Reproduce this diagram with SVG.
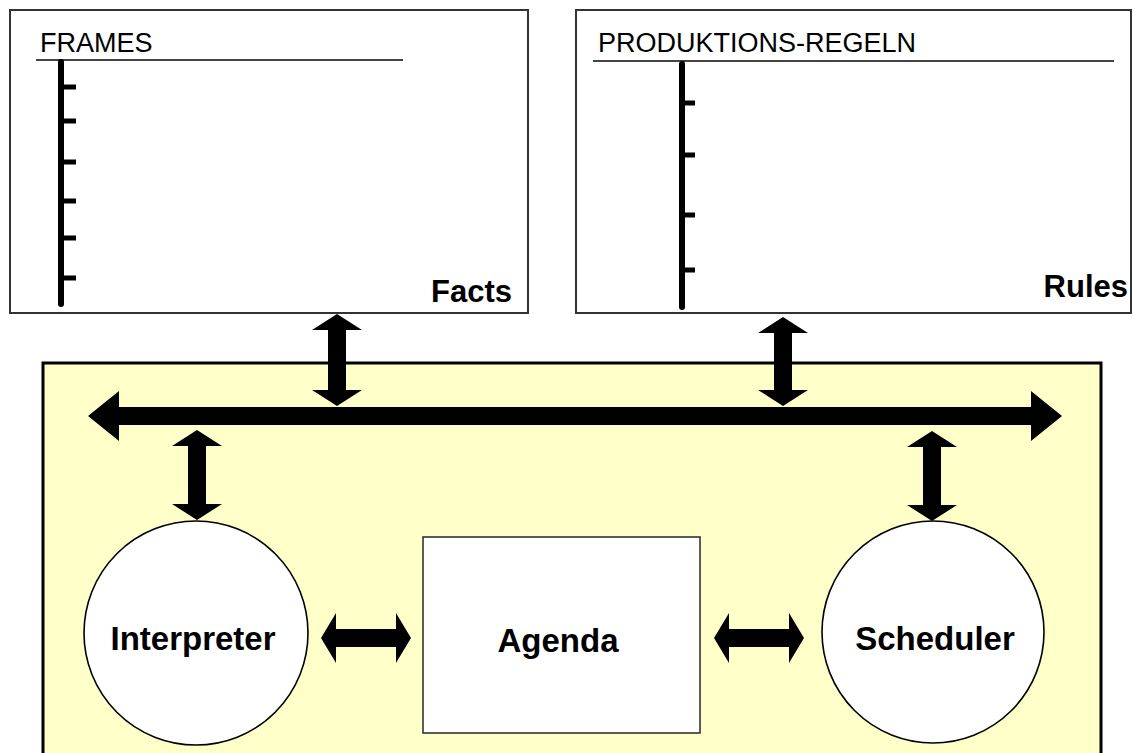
<svg xmlns="http://www.w3.org/2000/svg" width="1133" height="753" viewBox="0 0 1133 753">
  <style>
    .panel { fill: #ffffff; stroke: #333333; stroke-width: 2; }
    .rule { stroke: #444444; stroke-width: 2; }
    .spine { stroke: #000000; stroke-width: 6; stroke-linecap: round; }
    .tick { stroke: #000000; stroke-width: 5; }
    .head { font-family: "Liberation Sans", Arial, sans-serif; font-size: 27px; fill: #000000; }
    .tag { font-family: "Liberation Sans", Arial, sans-serif; font-size: 31px; font-weight: bold; fill: #000000; }
    .label { font-family: "Liberation Sans", Arial, sans-serif; font-size: 33px; font-weight: bold; fill: #000000; text-anchor: middle; }
    .arrow { fill: #000000; }
  </style>

  <!-- knowledge base: frames -->
  <g id="facts">
    <rect class="panel" x="10" y="10" width="518" height="303"/>
    <text class="head" x="40" y="52">FRAMES</text>
    <line class="rule" x1="36" y1="60" x2="403" y2="60"/>
    <line class="spine" x1="61" y1="62" x2="61" y2="304"/>
    <line class="tick" x1="61" y1="87" x2="76" y2="87"/>
    <line class="tick" x1="61" y1="121" x2="76" y2="121"/>
    <line class="tick" x1="61" y1="162" x2="76" y2="162"/>
    <line class="tick" x1="61" y1="201" x2="76" y2="201"/>
    <line class="tick" x1="61" y1="238" x2="76" y2="238"/>
    <line class="tick" x1="61" y1="278" x2="76" y2="278"/>
    <text class="tag" x="512" y="302" text-anchor="end">Facts</text>
  </g>

  <!-- knowledge base: production rules -->
  <g id="rules">
    <rect class="panel" x="576" y="10" width="555" height="303"/>
    <text class="head" x="598" y="52">PRODUKTIONS-REGELN</text>
    <line class="rule" x1="593" y1="61" x2="1114" y2="61"/>
    <line class="spine" x1="682" y1="64" x2="682" y2="307"/>
    <line class="tick" x1="682" y1="103" x2="695" y2="103"/>
    <line class="tick" x1="682" y1="155" x2="695" y2="155"/>
    <line class="tick" x1="682" y1="215" x2="695" y2="215"/>
    <line class="tick" x1="682" y1="270" x2="695" y2="270"/>
    <text class="tag" x="1128" y="297" text-anchor="end">Rules</text>
  </g>

  <!-- inference engine frame -->
  <g id="engine">
    <rect x="43" y="363" width="1058" height="400" fill="#ffffca" stroke="#000000" stroke-width="3"/>
  </g>

  <g id="interpreter">
    <circle cx="196" cy="633" r="112" fill="#ffffff" stroke="#000000" stroke-width="1.6"/>
    <text class="label" x="193" y="650">Interpreter</text>
  </g>

  <g id="agenda">
    <rect x="423" y="537" width="277" height="196" fill="#ffffff" stroke="#333333" stroke-width="1.6"/>
    <text class="label" x="558" y="652">Agenda</text>
  </g>

  <g id="scheduler">
    <circle cx="933" cy="632" r="111" fill="#ffffff" stroke="#000000" stroke-width="1.6"/>
    <text class="label" x="935" y="650">Scheduler</text>
  </g>

  <!-- connectors -->
  <g id="connectors" class="arrow">
    <!-- bus -->
    <polygon points="88,416 119,391 119,407 1031,407 1031,391 1062,416 1031,441 1031,425 119,425 119,441"/>
    <!-- facts <-> bus -->
    <polygon points="337,314 362,330 346,330 346,390 362,390 337,406 312,390 328,390 328,330 312,330"/>
    <!-- rules <-> bus -->
    <polygon points="783,317 808,333 792,333 792,390 808,390 783,406 758,390 774,390 774,333 758,333"/>
    <!-- bus <-> interpreter -->
    <polygon points="197,430 222,446 206,446 206,504 222,504 197,520 172,504 188,504 188,446 172,446"/>
    <!-- bus <-> scheduler -->
    <polygon points="932,431 957,447 941,447 941,505 957,505 932,521 907,505 923,505 923,447 907,447"/>
    <!-- interpreter <-> agenda -->
    <polygon points="321,638 336,613 336,629 396,629 396,613 411,638 396,663 396,647 336,647 336,663"/>
    <!-- agenda <-> scheduler -->
    <polygon points="714,638 729,613 729,629 789,629 789,613 804,638 789,663 789,647 729,647 729,663"/>
  </g>
</svg>
